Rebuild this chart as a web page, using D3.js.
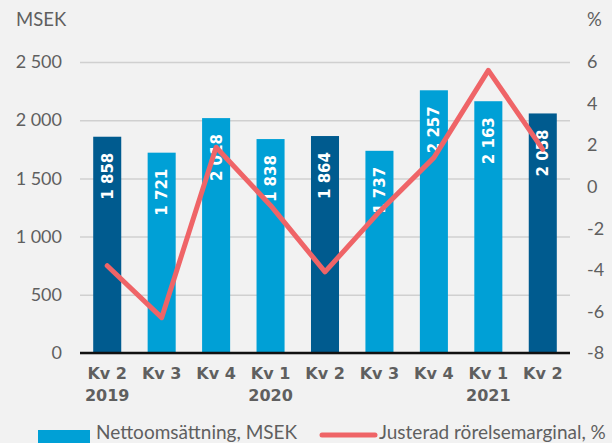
<!DOCTYPE html>
<html>
<head>
<meta charset="utf-8">
<script src="https://cdn.jsdelivr.net/npm/d3@7"></script>
<style>
  html, body { margin: 0; padding: 0; background: #f2f2f2; }
  svg { display: block; }
</style>
</head>
<body>
<svg id="chart" width="612" height="443"></svg>
<script>
// Data
const quarters = ["Kv 2", "Kv 3", "Kv 4", "Kv 1", "Kv 2", "Kv 3", "Kv 4", "Kv 1", "Kv 2"];
const years = ["2019", "", "", "2020", "", "", "", "2021", ""];
const sales = [1858, 1721, 2018, 1838, 1864, 1737, 2257, 2163, 2058];
const margin = [-3.8, -6.3, 1.9, -0.9, -4.1, -1.2, 1.4, 5.6, 1.8];
const leftTicks = [0, 500, 1000, 1500, 2000, 2500];
const rightTicks = [-8, -6, -4, -2, 0, 2, 4, 6];

const DARK = "#005b8f";
const LIGHT = "#00a0d6";
const RED = "#ef6467";
const TXT = "#5f5f5f";
const FONT = "Lato, sans-serif";
const HEAVY = "'DejaVu Sans', sans-serif";

const svg = d3.select("#chart");

const plot = { left: 80, right: 570, top: 62, bottom: 353 };

const locale = d3.formatLocale({ decimal: ",", thousands: " ", grouping: [3], currency: ["", ""] });
const fmt = locale.format(",");

const x = d3.scaleBand()
    .domain(d3.range(quarters.length))
    .range([plot.left, plot.right])
    .paddingInner(0.485)
    .paddingOuter(0.2425);

const y = d3.scaleLinear().domain([0, 2500]).range([plot.bottom, plot.top]);
const y2 = d3.scaleLinear().domain([-8, 6]).range([plot.bottom, plot.top]);

// grid + left axis
const leftAxis = d3.axisLeft(y)
    .tickValues(leftTicks)
    .tickFormat(fmt)
    .tickSize(-(plot.right - plot.left))
    .tickPadding(18);

const gl = svg.append("g")
    .attr("transform", `translate(${plot.left},0)`)
    .call(leftAxis);
gl.select(".domain").remove();
gl.selectAll(".tick line").attr("stroke", "#d0d0d0").attr("stroke-width", 1.5);
gl.selectAll(".tick text")
    .attr("fill", TXT)
    .style("font-family", FONT)
    .style("font-size", "18px");

// right axis
const rightAxis = d3.axisRight(y2)
    .tickValues(rightTicks)
    .tickFormat(d => String(d))
    .tickSize(0)
    .tickPadding(17);

const gr = svg.append("g")
    .attr("transform", `translate(${plot.right},0)`)
    .call(rightAxis);
gr.select(".domain").remove();
gr.selectAll(".tick text")
    .attr("fill", TXT)
    .style("font-family", FONT)
    .style("font-size", "18px");

// axis titles
svg.append("text")
    .attr("x", 16).attr("y", 26)
    .attr("fill", TXT)
    .style("font-family", FONT)
    .style("font-size", "18.5px")
    .text("MSEK");

svg.append("text")
    .attr("x", 587).attr("y", 26)
    .attr("fill", TXT)
    .style("font-family", FONT)
    .style("font-size", "18.5px")
    .text("%");

// bars
const isDark = d => quarters[d] === "Kv 2";

svg.append("g")
    .selectAll("rect")
    .data(d3.range(sales.length))
    .join("rect")
    .attr("x", i => x(i))
    .attr("width", x.bandwidth())
    .attr("y", i => y(sales[i]))
    .attr("height", i => y(0) - y(sales[i]))
    .attr("fill", i => isDark(i) ? DARK : LIGHT);

// baseline
svg.append("line")
    .attr("x1", plot.left).attr("x2", plot.right)
    .attr("y1", y(0)).attr("y2", y(0))
    .attr("stroke", "#111")
    .attr("stroke-width", 2.5);

// bar labels
svg.append("g")
    .selectAll("text")
    .data(d3.range(sales.length))
    .join("text")
    .attr("transform", i => `translate(${x(i) + x.bandwidth() / 2},${y(sales[i]) + 16}) rotate(-90)`)
    .attr("text-anchor", "end")
    .attr("dy", "0.36em")
    .attr("fill", "#fff")
    .style("font-family", HEAVY)
    .style("font-weight", "700")
    .style("font-size", "15px")
    .text(i => fmt(sales[i]));

// margin line
const line = d3.line()
    .x((d, i) => x(i) + x.bandwidth() / 2)
    .y(d => y2(d));

svg.append("path")
    .datum(margin)
    .attr("d", line)
    .attr("fill", "none")
    .attr("stroke", RED)
    .attr("stroke-width", 5)
    .attr("stroke-linejoin", "round")
    .attr("stroke-linecap", "round");

// x labels
const xl = svg.append("g")
    .style("font-family", HEAVY)
    .style("font-weight", "700")
    .style("font-size", "16px")
    .attr("fill", TXT)
    .attr("text-anchor", "middle");

xl.selectAll(".q")
    .data(d3.range(quarters.length))
    .join("text")
    .attr("class", "q")
    .attr("x", i => x(i) + x.bandwidth() / 2)
    .attr("y", 379)
    .text(i => quarters[i]);

xl.selectAll(".yr")
    .data(d3.range(years.length).filter(i => years[i]))
    .join("text")
    .attr("class", "yr")
    .attr("x", i => x(i) + x.bandwidth() / 2)
    .attr("y", 401)
    .text(i => years[i]);

// legend
const lg = svg.append("g")
    .style("font-family", FONT)
    .style("font-size", "19px")
    .attr("fill", TXT);

lg.append("rect")
    .attr("x", 38).attr("y", 430)
    .attr("width", 52).attr("height", 14)
    .attr("fill", LIGHT);

lg.append("text")
    .attr("x", 96).attr("y", 439)
    .text("Nettoomsättning, MSEK");

lg.append("line")
    .attr("x1", 322).attr("x2", 375)
    .attr("y1", 435).attr("y2", 435)
    .attr("stroke", RED)
    .attr("stroke-width", 5)
    .attr("stroke-linecap", "round");

lg.append("text")
    .attr("x", 379).attr("y", 439)
    .text("Justerad rörelsemarginal, %");
</script>
</body>
</html>
